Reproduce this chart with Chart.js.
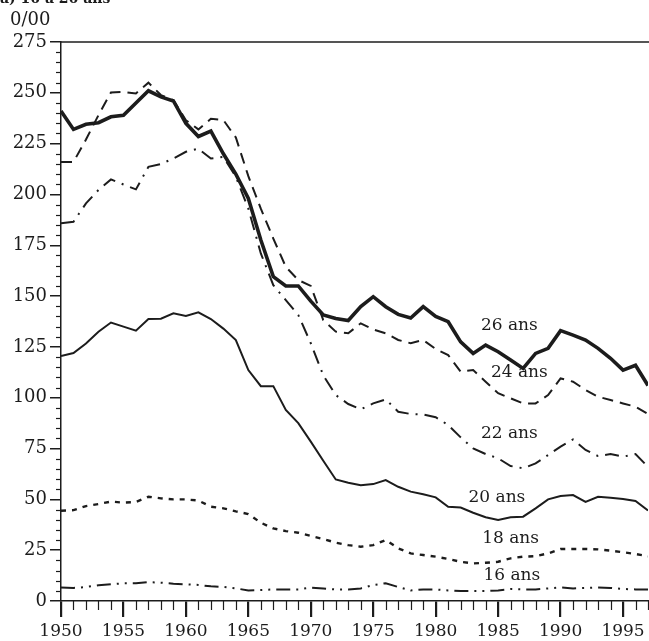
<!DOCTYPE html>
<html>
<head>
<meta charset="utf-8">
<script src="https://cdn.jsdelivr.net/npm/chart.js@4/dist/chart.umd.min.js"></script>
<style>
  html, body { margin: 0; padding: 0; background: #fff; overflow: hidden; }
  #wrap { position: relative; width: 652px; height: 641px; }
  canvas { display: block; }
</style>
</head>
<body>
<div id="wrap"><canvas id="c" width="652" height="641"></canvas></div>
<script>
// ---- Data (per mille) ----
const years = [];
for (let y = 1950; y <= 1997; y++) years.push(y);

const age26 = [241,232,234.5,235.3,238.2,239,245,251,248,246,
               235,228.5,231.2,220,210,198,177.6,159.6,155,155,
               147.5,140.7,139,138,144.8,149.7,144.8,141,139.2,144.8,
               140,137.4,127.5,121.8,125.9,122.6,118.5,114.4,121.8,124.3,
               133,130.8,128.4,124.3,119.4,113.6,116,106];
const age24 = [216,216,227,239,250.2,250.4,249.7,255,248.9,246.4,
               236.5,232,237.2,236.6,228,209,193,178.3,164.4,157.9,
               155,138.2,132.5,131.7,136.6,133.6,131.7,128.4,126.8,128.4,
               124,121,112.8,113.6,107.9,102.2,99.7,97.2,97.2,101.3,
               109.5,107.9,103.8,100.5,98.9,97.2,95.6,92];
const age22 = [185.8,186.6,195.6,202.2,207.4,204.9,202.5,213.6,215,217.7,
               221,222.5,217.7,218.5,208.7,193,171,155.4,148,140.7,
               126.8,111,101.3,96.9,94.3,97.2,99.2,93.1,92,91.8,
               90.4,86.6,80.5,75.1,72.3,70.2,66.4,65.3,67.7,71.8,
               75.9,79.5,74.3,71.3,72.3,71,72.3,66];
const age20 = [120.5,122,126.7,132.5,137,135,133,138.7,138.9,141.5,
               140.2,142,138.7,134,128.4,113.6,105.7,105.7,94,87.5,
               78.4,69,59.8,58.2,56.9,57.5,59.5,56.2,53.8,52.5,
               51,46.4,46,43.4,41.2,39.8,41.2,41.5,45.6,50,
               51.6,52.1,48.8,51.3,50.8,50.2,49.2,44.5];
const age18 = [44.4,44.7,46.7,47.7,48.9,48.4,48.7,51.3,50.5,50,
               50,49.4,46.4,45.6,44.1,42.8,38.5,35.7,34.4,33.6,
               32,30.5,28.7,27.5,26.7,27.5,30,25.9,23.4,22.6,
               21.8,20.7,19.3,18.5,18.8,19.3,21,21.8,22.1,23.4,
               25.6,25.6,25.6,25.4,24.8,24,23.1,22];
const age16 = [6.6,6.4,6.9,7.7,8.2,8.7,8.7,9.3,9.0,8.5,
               8.2,7.9,7.2,6.9,6.2,5.2,5.4,5.7,5.6,5.7,
               6.6,6.1,5.7,5.7,6.2,7.9,8.7,6.9,5.2,5.7,
               5.7,5.2,4.9,4.9,4.9,5.2,5.9,5.7,5.7,6.2,
               6.7,6.2,6.4,6.7,6.4,5.9,5.7,5.7];

const seriesNames = ['26 ans','24 ans','22 ans','20 ans','18 ans','16 ans'];
// label anchors in data units (year, value)
const labelYears  = [1985.9, 1986.7, 1985.9, 1984.9, 1986.0, 1986.1];
const labelValues = [135.3, 112.2, 82.6, 50.7, 30.5, 12.3];

const title = 'a) 16 à 26 ans';
const unitLabel = '0/00';
const yTickStep = 25, yMinorStep = 5, xMajorStep = 5;

// ---- Styles ----
const INK = '#1c1c1c';
const styles = [
  { width: 3.6, dash: [] },
  { width: 2.0, dash: [11, 7] },
  { width: 2.0, dash: [14, 7, 2, 7] },
  { width: 2.0, dash: [] },
  { width: 2.4, dash: [5, 6] },
  { width: 2.0, dash: [14, 6, 2, 6, 2, 6] }
];
const allSeries = [age26, age24, age22, age20, age18, age16];

const datasets = allSeries.map((arr, i) => ({
  label: seriesNames[i],
  data: arr.map((v, k) => ({ x: years[k], y: v })),
  borderColor: INK,
  borderWidth: styles[i].width,
  borderDash: styles[i].dash,
  pointRadius: 0,
  tension: 0,
  fill: false
}));

const SERIF = '"DejaVu Serif", serif';

const decor = {
  id: 'decor',
  afterDraw(chart) {
    const { ctx, chartArea: ca, scales: { x, y } } = chart;
    ctx.save();
    ctx.strokeStyle = INK;
    ctx.fillStyle = INK;
    // top border line at max
    ctx.lineWidth = 1.5;
    ctx.beginPath();
    ctx.moveTo(ca.left, y.getPixelForValue(275));
    ctx.lineTo(chart.width, y.getPixelForValue(275));
    ctx.stroke();
    // minor y ticks
    ctx.lineWidth = 1.2;
    for (let v = 0; v <= 275; v += yMinorStep) {
      if (v % yTickStep === 0) continue;
      const py = Math.round(y.getPixelForValue(v)) + 0.5;
      ctx.beginPath();
      ctx.moveTo(ca.left - 5, py);
      ctx.lineTo(ca.left, py);
      ctx.stroke();
    }
    // minor x ticks
    for (let yr = 1950; yr <= 1997; yr++) {
      if (yr % xMajorStep === 0) continue;
      const px = Math.round(x.getPixelForValue(yr)) + 0.5;
      ctx.beginPath();
      ctx.moveTo(px, ca.bottom);
      ctx.lineTo(px, ca.bottom + 9);
      ctx.stroke();
    }
    // series labels
    ctx.font = '17px ' + SERIF;
    ctx.textAlign = 'center';
    ctx.textBaseline = 'middle';
    seriesNames.forEach((n, i) => {
      ctx.fillText(n, x.getPixelForValue(labelYears[i]), y.getPixelForValue(labelValues[i]));
    });
    // unit label
    ctx.textAlign = 'left';
    ctx.textBaseline = 'alphabetic';
    ctx.font = '18px ' + SERIF;
    ctx.fillText(unitLabel, 10, 25);
    // title (cut at the top)
    ctx.font = 'bold 14px ' + SERIF;
    ctx.fillText(title, 0, 3);
    ctx.restore();
  }
};

new Chart(document.getElementById('c'), {
  type: 'line',
  data: { datasets },
  plugins: [decor],
  options: {
    responsive: false,
    animation: false,
    events: [],
    layout: { padding: { top: 42, left: 0, right: 1, bottom: 0 } },
    plugins: { legend: { display: false }, tooltip: { enabled: false }, title: { display: false } },
    scales: {
      x: {
        type: 'linear',
        min: 1950, max: 1997,
        afterFit(s) { s.height = 40; },
        border: { display: true, color: INK, width: 1.5 },
        grid: {
          display: true, drawOnChartArea: false, drawTicks: true, tickLength: 16,
          color: (c) => (c.tick && c.tick.value % xMajorStep === 0) ? INK : 'rgba(0,0,0,0)',
          lineWidth: 2.2
        },
        ticks: {
          stepSize: 1, autoSkip: false, maxRotation: 0, padding: 4,
          color: INK,
          font: { family: SERIF, size: 17 },
          callback: (v) => (v % xMajorStep === 0 ? String(v) : '')
        }
      },
      y: {
        min: 0, max: 275,
        afterFit(s) { s.width = 61; },
        border: { display: true, color: INK, width: 1.5 },
        grid: {
          display: true, drawOnChartArea: false, drawTicks: true, tickLength: 11,
          color: (c) => (c.tick && c.tick.value % yTickStep === 0) ? INK : 'rgba(0,0,0,0)',
          lineWidth: 1.5
        },
        ticks: {
          stepSize: yMinorStep, autoSkip: false, padding: 3,
          color: INK,
          font: { family: SERIF, size: 18 },
          callback: (v) => (v % yTickStep === 0 ? String(v) : '')
        }
      }
    }
  }
});
</script>
</body>
</html>
